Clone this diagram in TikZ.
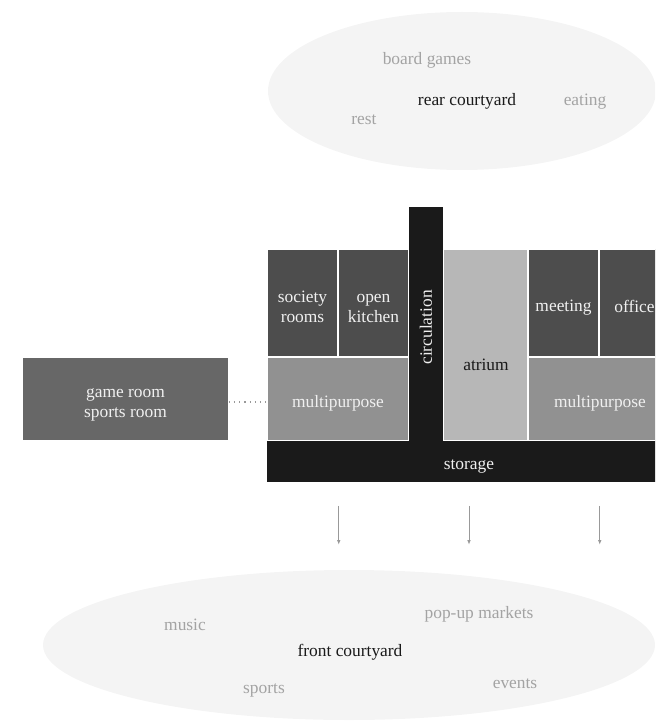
\documentclass[tikz,border=0pt]{standalone}
\usepackage{fontspec}
\setmainfont{Liberation Serif}
\usetikzlibrary{shapes,arrows.meta,positioning}
\definecolor{room-dark}{HTML}{4D4D4D}
\definecolor{room-black}{HTML}{1A1A1A}
\definecolor{room-mid}{HTML}{919191}
\definecolor{room-light}{HTML}{B7B7B7}
\definecolor{room-game}{HTML}{676767}
\definecolor{court-fill}{HTML}{F4F4F4}
\definecolor{court-text}{HTML}{A3A3A3}
\definecolor{room-text}{HTML}{F0F0F0}
\newcommand{\lowstrut}{\rule{0pt}{10pt}}

\tikzset{
  court/.style={ellipse, fill=court-fill, draw=none, inner sep=0pt},
  activity/.style={text=court-text, inner sep=0pt},
  courtname/.style={text=room-black, inner sep=0pt},
  room/.style={rectangle, fill=room-dark, draw=white, line width=0.75pt, inner sep=0pt, text=room-text, align=center,
    execute at begin node={\lowstrut}},
  hall/.style={room, fill=room-mid},
  core/.style={room, fill=room-black, draw=none},
  flow/.style={-{Latex[length=2.2pt,width=1.8pt]}, color=gray!80, line width=0.4pt},
  link/.style={dotted, color=gray!80, line width=0.6pt}
}

\begin{document}
\begin{tikzpicture}[x=0.5pt, y=-0.5pt, font=\fontsize{8.7}{10}\selectfont]
\useasboundingbox (0,0) rectangle (655,721);
\clip (0,0) rectangle (655,721);

\node[court, minimum width=194pt, minimum height=79pt] (rear) at (462,91) {};
\node[activity] (boardgames) at (427,60.5) {board games};
\node[courtname] (rearname) at (467,101.5) {rear courtyard};
\node[activity] (eating) at (585,101.5) {eating};
\node[activity] (rest) at (364,119.5) {rest};

\node[room, minimum width=35.5pt, minimum height=54pt] (society) at (302.5,303) {\lowstrut society\\rooms};
\node[room, minimum width=35.5pt, minimum height=54pt] (kitchen) at (373.5,303) {\lowstrut open\\kitchen};
\node[room, minimum width=35.5pt, minimum height=54pt] (meeting) at (563.5,303) {meeting};
\node[room, minimum width=35.5pt, minimum height=54pt] (office) at (634.5,303) {office};
\node[hall, minimum width=71pt, minimum height=42pt] (mpleft) at (338,399) {multipurpose};
\node[hall, minimum width=72pt, minimum height=42pt] (mpright) at (600,399) {multipurpose};
\node[room, fill=room-light, minimum width=42.5pt, minimum height=96pt] (atrium) at (485.5,345) {};
\node[text=room-black] (atriumname) at (486,364.5) {atrium};
\node[core, minimum width=17pt, minimum height=117pt] (circulation) at (426,324) {};
\node[text=room-text, rotate=90] (circname) at (426,327.5) {circulation};
\node[core, minimum width=202pt, minimum height=20.5pt] (storage) at (469,461.5) {storage};

\node[room, fill=room-game, draw=none, minimum width=102.5pt, minimum height=41pt] (game) at (125.5,399) {\lowstrut game room\\sports room};
\draw[link] ([yshift=-1.5pt]game.east) -- ([yshift=-1.5pt]mpleft.west);

\node[court, minimum width=306pt, minimum height=75pt] (front) at (349,645) {};
\node[activity] (music) at (185,625) {music};
\node[activity] (popup) at (479,614) {pop-up markets};
\node[courtname] (frontname) at (350,652) {front courtyard};
\node[activity] (sports) at (264,690.5) {sports};
\node[activity] (events) at (515,684) {events};

\draw[flow, shorten <=11.5pt, shorten >=12.5pt] (storage.south -| society.east) -- (front.north -| society.east);
\draw[flow, shorten <=11.5pt, shorten >=12.5pt] (storage.south) -- (front.north -| storage.south);
\draw[flow, shorten <=11.5pt, shorten >=12.5pt] (storage.south -| meeting.east) -- (front.north -| meeting.east);
\end{tikzpicture}
\end{document}
